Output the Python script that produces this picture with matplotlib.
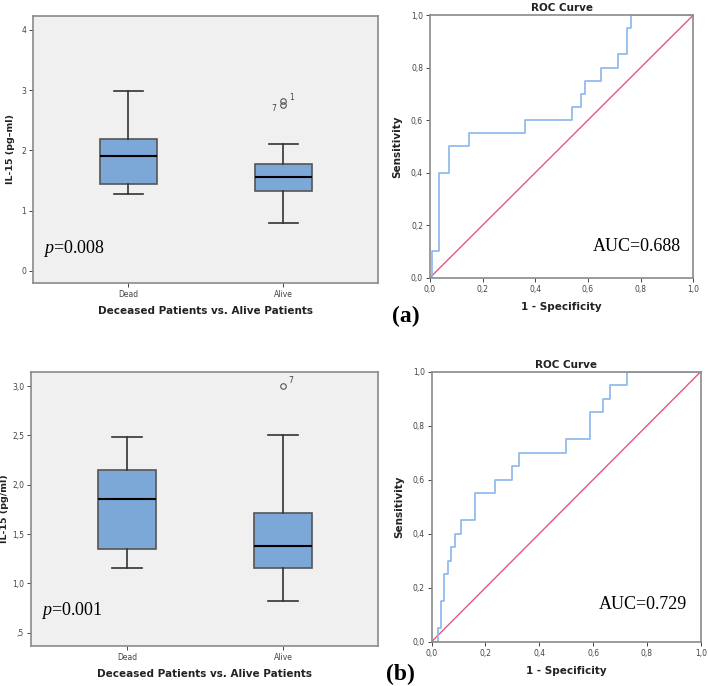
import numpy as np
import matplotlib
matplotlib.use("Agg")
import matplotlib.pyplot as plt

plt.rcParams["mathtext.fontset"] = "custom"
plt.rcParams["mathtext.it"] = "Liberation Serif:italic"
plt.rcParams["mathtext.rm"] = "Liberation Serif"

# box plot data
groups = ["Dead", "Alive"]
box_a = [
    dict(whislo=1.27, q1=1.445, med=1.905, q3=2.195, whishi=2.99),
    dict(whislo=0.795, q1=1.325, med=1.565, q3=1.77, whishi=2.11),
]
fliers_a = [2.75, 2.82]
flier_labels_a = ["7", "1"]
box_b = [
    dict(whislo=1.16, q1=1.345, med=1.851, q3=2.149, whishi=2.483),
    dict(whislo=0.824, q1=1.152, med=1.375, q3=1.713, whishi=2.507),
]
fliers_b = [3.0]
flier_labels_b = ["7"]

# ROC step curves (1 - specificity, sensitivity)
roc_a_x = [0.0, 0.006, 0.006, 0.036, 0.036, 0.073, 0.073, 0.149, 0.149, 0.362, 0.362,
           0.539, 0.539, 0.575, 0.575, 0.589, 0.589, 0.651, 0.651, 0.713, 0.713,
           0.749, 0.749, 0.762, 0.762, 1.0]
roc_a_y = [0.0, 0.0, 0.1, 0.1, 0.4, 0.4, 0.5, 0.5, 0.55, 0.55, 0.6,
           0.6, 0.65, 0.65, 0.7, 0.7, 0.75, 0.75, 0.8, 0.8, 0.85,
           0.85, 0.95, 0.95, 1.0, 1.0]
roc_b_x = [0.0, 0.022, 0.022, 0.035, 0.035, 0.047, 0.047, 0.061, 0.061, 0.073, 0.073,
           0.087, 0.087, 0.110, 0.110, 0.162, 0.162, 0.237, 0.237, 0.300, 0.300,
           0.326, 0.326, 0.500, 0.500, 0.589, 0.589, 0.638, 0.638, 0.664, 0.664,
           0.727, 0.727, 1.0]
roc_b_y = [0.0, 0.0, 0.05, 0.05, 0.15, 0.15, 0.25, 0.25, 0.3, 0.3, 0.35,
           0.35, 0.4, 0.4, 0.45, 0.45, 0.55, 0.55, 0.6, 0.6, 0.65,
           0.65, 0.7, 0.7, 0.75, 0.75, 0.85, 0.85, 0.9, 0.9, 0.95,
           0.95, 1.0, 1.0]
auc_a = "AUC=0.688"
auc_b = "AUC=0.729"
p_a = "0.008"
p_b = "0.001"

box_fill = "#7BA8D7"
frame_col = "#8a8a8a"
tick_col = "#444444"
sans = "DejaVu Sans"
serif = "Liberation Serif"

fig = plt.figure(figsize=(7.08, 6.86), dpi=100)


def comma(v, fmt="{:.1f}"):
    return fmt.format(v).replace(".", ",")


def style_frame(ax):
    for sp in ax.spines.values():
        sp.set_color(frame_col)
        sp.set_linewidth(1.2)
    ax.tick_params(colors=tick_col, labelsize=5.5, length=3, width=0.7, pad=2)


def boxpanel(rect, stats, fliers, lab_pos, ylim, yticks, yticklabels, ylabel, pval, ylab_x):
    ax = fig.add_axes(rect)
    ax.set_facecolor("#F0F0F0")
    for s, g in zip(stats, groups):
        s["label"] = g
        s["fliers"] = []
    ax.bxp(stats, positions=[0, 1], widths=0.37, patch_artist=True, showfliers=False,
           boxprops=dict(facecolor=box_fill, edgecolor="#555555", linewidth=1.2),
           medianprops=dict(color="black", linewidth=1.5),
           whiskerprops=dict(color="#333333", linewidth=1.2),
           capprops=dict(color="#333333", linewidth=1.2), capwidths=0.19)
    ax.plot([1] * len(fliers), fliers, "o", ms=4, mfc="none", mec="#555555", mew=0.8)
    for (dx, dy, txt), f in zip(lab_pos, fliers):
        ax.text(1 + dx, f + dy, txt, fontsize=5.5, color="#444444", family=sans,
                ha="center", va="center")
    ax.set_xlim(-0.615, 1.61)
    ax.set_ylim(*ylim)
    ax.set_yticks(yticks)
    ax.set_yticklabels(yticklabels)
    ax.set_xticks([0, 1])
    ax.set_xticklabels(groups)
    style_frame(ax)
    ax.set_xlabel("Deceased Patients vs. Alive Patients", fontsize=7.5, fontweight="bold",
                  family=sans, color="#222222", labelpad=5)
    ax.set_ylabel(ylabel, fontsize=6.8, fontweight="bold", family=sans, color="#222222")
    ax.yaxis.set_label_coords(ylab_x, 0.5)
    ax.text(0.03, 0.13, r"$p$" + "=" + pval, transform=ax.transAxes, fontsize=13,
            family=serif, va="center", ha="left")
    return ax


def rocpanel(rect, xs, ys, auc, aucpos):
    ax = fig.add_axes(rect)
    ax.plot([0, 1], [0, 1], color="#E8577D", lw=1.0)
    ax.plot(xs, ys, color="#8AB6EE", lw=1.2)
    ax.set_xlim(0, 1)
    ax.set_ylim(0, 1)
    t = np.arange(0, 1.01, 0.2)
    ax.set_xticks(t)
    ax.set_xticklabels([comma(v) for v in t])
    ax.set_yticks(t)
    ax.set_yticklabels([comma(v) for v in t])
    style_frame(ax)
    ax.set_title("ROC Curve", fontsize=7.5, fontweight="bold", family=sans, color="#222222", pad=3)
    ax.set_xlabel("1 - Specificity", fontsize=7.5, fontweight="bold", family=sans, color="#222222", labelpad=6)
    ax.set_ylabel("Sensitivity", fontsize=7.5, fontweight="bold", family=sans, color="#222222", labelpad=6)
    ax.text(aucpos[0], aucpos[1], auc, fontsize=13, family=serif, va="center", ha="left")
    return ax


boxpanel([0.0466, 0.5875, 0.4873, 0.3892], box_a, fliers_a,
         [(-0.06, -0.05, "7"), (0.05, 0.05, "1")],
         (-0.2, 4.23), [0, 1, 2, 3, 4], ["0", "1", "2", "3", "4"],
         "IL-15 (pg\u2013ml)", p_a, -0.052)
boxpanel([0.0438, 0.0583, 0.4902, 0.3994], box_b, fliers_b,
         [(0.05, 0.06, "7")],
         (0.365, 3.142), [0.5, 1.0, 1.5, 2.0, 2.5, 3.0], [",5", "1,0", "1,5", "2,0", "2,5", "3,0"],
         "IL-15 (pg/ml)", p_b, -0.062)

rocpanel([0.6073, 0.5952, 0.3720, 0.3829], roc_a_x, roc_a_y, auc_a, (0.62, 0.118))
rocpanel([0.6097, 0.0646, 0.3800, 0.3936], roc_b_x, roc_b_y, auc_b, (0.62, 0.136))

fig.text(406 / 708, 1 - 316 / 686, "(a)", fontsize=17, fontweight="bold", family=serif,
         ha="center", va="center")
fig.text(400 / 708, 1 - 674 / 686, "(b)", fontsize=17, fontweight="bold", family=serif,
         ha="center", va="center")

fig.savefig("out.png", dpi=100)
